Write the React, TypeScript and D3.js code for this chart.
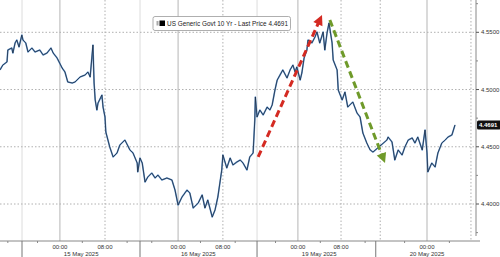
import React from "react";
import * as d3 from "d3";

// Trading-hours axis (hours since chart start, compressed Bloomberg intraday axis)
const hours = [0,0.5,1.25,1.4,2.1,2.3,2.7,3.0,3.4,3.9,4.1,4.6,5.0,5.7,6.25,7.1,7.7,8.4,9.1,9.5,10.2,11.1,11.6,12.1,12.9,13.4,14.3,15.2,15.7,16.1,16.6,16.8,17.0,17.3,17.5,18.2,18.4,18.75,18.9,19.6,20.2,20.9,21.4,22.3,23.2,23.75,24.5,24.6,25.0,25.4,25.9,26.4,27.1,27.7,28.2,28.9,29.8,30.7,31.25,31.8,32.5,33.4,33.9,34.5,35.4,36.1,36.6,37.1,37.9,38.4,38.9,39.6,39.8,40.5,41.1,41.6,42.3,42.9,43.4,44.1,44.6,45.2,45.5,45.6,45.9,46.4,47.0,47.7,48.2,48.6,49.1,49.5,50.0,50.5,51.25,51.8,52.3,52.7,53.0,53.6,53.9,54.3,54.8,55.0,55.7,56.25,56.6,57.1,57.7,58.0,58.4,58.75,59.3,59.5,60.2,60.4,61.1,61.6,62.1,63.0,63.75,64.3,64.8,65.5,66.1,66.6,69.1,69.3,70.0,70.5,71.1,71.8,72.3,72.9,73.6,74.1,74.6,75.4,75.9,76.25,76.4,77.1,77.7,78.2,78.9,79.5,80.0,80.7,81.25];
const yields = [4.5171,4.5214,4.5241,4.5345,4.5363,4.5319,4.5407,4.5433,4.5372,4.5476,4.5433,4.5407,4.5328,4.5363,4.5328,4.5345,4.5302,4.5319,4.5363,4.5319,4.5275,4.5188,4.5153,4.5066,4.5057,4.5066,4.5110,4.5127,4.5153,4.5110,4.5389,4.5057,4.4909,4.4821,4.4882,4.4952,4.4847,4.4760,4.4629,4.4498,4.4411,4.4446,4.4515,4.4559,4.4472,4.4446,4.4358,4.4280,4.4402,4.4358,4.4192,4.4236,4.4271,4.4227,4.4253,4.4210,4.4227,4.4210,4.4122,4.3991,4.4061,4.4122,4.4096,4.3965,4.4009,4.4079,4.3965,4.4035,4.3886,4.3948,4.4061,4.4297,4.4428,4.4315,4.4402,4.4341,4.4367,4.4384,4.4358,4.4297,4.4411,4.4446,4.4734,4.4935,4.4760,4.4821,4.4778,4.4847,4.4821,4.4865,4.4996,4.5083,4.5127,4.5171,4.5101,4.5171,4.5214,4.5153,4.5197,4.5083,4.5144,4.5275,4.5345,4.5433,4.5407,4.5459,4.5503,4.5407,4.5503,4.5345,4.5494,4.5581,4.5407,4.5258,4.5171,4.4996,4.4909,4.4978,4.4847,4.4891,4.4795,4.4760,4.4620,4.4533,4.4472,4.4454,4.4559,4.4585,4.4542,4.4384,4.4472,4.4428,4.4498,4.4559,4.4577,4.4533,4.4585,4.4472,4.4647,4.4446,4.4280,4.4358,4.4323,4.4446,4.4533,4.4559,4.4585,4.4603,4.4691];

const lastPrice = 4.4691;
const yTicks = [4.55, 4.5, 4.45, 4.4];
const yMinorTicks = [4.575, 4.525, 4.475, 4.425, 4.375];
const midnightHours = [10.7, 31.8, 53.2, 76.25];
const eightHours = [18.75, 39.8, 60.9, 84.1];
const extraDottedHours = [67.9];
const daySepHours = [3.93, 25.0, 45.9, 67.1];
const minorTickHours = [1.4, 6.7, 14.7, 22.7, 27.1, 35.8, 42.0, 49.2, 57.2, 65.2, 72.25, 80.25];
const timeLabels = [
  { h: 10.7, t: "00:00" }, { h: 18.75, t: "08:00" },
  { h: 31.8, t: "00:00" }, { h: 39.8, t: "08:00" },
  { h: 53.2, t: "00:00" }, { h: 60.9, t: "08:00" },
  { h: 76.25, t: "00:00" },
];
const dateLabels = [
  { h: 14.5, t: "15 May 2025" },
  { h: 35.4, t: "16 May 2025" },
  { h: 57.0, t: "19 May 2025" },
  { h: 76.25, t: "20 May 2025" },
];
// annotation arrows: [startHour, startYield, endHour, endYield]
const redArrow = [46.1, 4.4411, 57.5, 4.5651];
const greenArrow = [58.9, 4.5607, 68.75, 4.4358];

const W = 500, H = 257;
const axisX = 476, axisY = 241;

function Arrow({ a, color, x, y }: any) {
  const x1 = x(a[0]), y1 = y(a[1]), x2 = x(a[2]), y2 = y(a[3]);
  const dx = x2 - x1, dy = y2 - y1;
  const len = Math.hypot(dx, dy);
  const ux = dx / len, uy = dy / len;
  const hl = 10, hw = 5;
  const bx = x2 - ux * hl, by = y2 - uy * hl;
  const px = -uy, py = ux;
  const pts = `${x2},${y2} ${bx + px * hw},${by + py * hw} ${bx - px * hw},${by - py * hw}`;
  return (
    <g>
      <line x1={x1} y1={y1} x2={bx + ux * 1} y2={by + uy * 1} stroke={color} strokeWidth={3} strokeDasharray="7,4" />
      <polygon points={pts} fill={color} />
    </g>
  );
}

export default function App() {
  const x = d3.scaleLinear().domain([0, 85]).range([0, axisX]);
  const y = d3.scaleLinear().domain([4.4, 4.55]).range([204, 32.3]);
  const data = hours.map((h, i) => [h, yields[i]] as [number, number]);
  const line = d3.line<[number, number]>().x(d => x(d[0])).y(d => y(d[1]));
  const path = line(data) || "";
  const font = "Liberation Sans, Arial, sans-serif";
  return (
    <svg width={W} height={H} style={{ position: "absolute", left: 0, top: 0, background: "#fff" }} fontFamily={font}>
      <rect x={0} y={0} width={W} height={H} fill="#fff" />
      {/* vertical grid */}
      {daySepHours.slice(0, 3).map((h, i) => (
        <line key={"ds" + i} x1={x(h)} x2={x(h)} y1={0} y2={axisY} stroke="#dcdcdc" strokeWidth={1} />
      ))}
      {midnightHours.map((h, i) => (
        <line key={"m" + i} x1={x(h)} x2={x(h)} y1={0} y2={axisY} stroke="#b5b5b5" strokeWidth={1} />
      ))}
      {[...eightHours, ...extraDottedHours].map((h, i) => (
        <line key={"e" + i} x1={x(h)} x2={x(h)} y1={0} y2={axisY} stroke="#b0b0b0" strokeWidth={1} strokeDasharray="1.5,2" />
      ))}
      {/* horizontal grid */}
      {yTicks.map((v, i) => (
        <line key={"hg" + i} x1={0} x2={axisX} y1={y(v)} y2={y(v)} stroke="#b0b0b0" strokeWidth={1} strokeDasharray="1.5,2" />
      ))}
      {/* series */}
      <path d={path} fill="none" stroke="#6a9bd0" strokeWidth={1.6} strokeLinejoin="round" />
      <path d={path} fill="none" stroke="#1b2a40" strokeWidth={0.8} strokeLinejoin="round" />
      {/* arrows */}
      <Arrow a={redArrow} color="#d42a22" x={x} y={y} />
      <Arrow a={greenArrow} color="#6f9a2a" x={x} y={y} />
      {/* right axis */}
      <line x1={axisX} x2={axisX} y1={0} y2={236} stroke="#888" strokeWidth={1} />
      {yTicks.map((v, i) => (
        <g key={"yt" + i}>
          <line x1={axisX} x2={axisX + 3} y1={y(v)} y2={y(v)} stroke="#555" />
          <text x={axisX + 5} y={y(v) + 2} fontSize={6} fill="#333">{v.toFixed(4)}</text>
        </g>
      ))}
      {yMinorTicks.map((v, i) => (
        <line key={"ym" + i} x1={axisX} x2={axisX + 2} y1={y(v)} y2={y(v)} stroke="#888" />
      ))}
      {/* last price box */}
      <rect x={axisX + 1} y={y(lastPrice) - 4.5} width={24} height={9} rx={1.5} fill="#111" />
      <text x={axisX + 3} y={y(lastPrice) + 2.2} fontSize={6} fill="#fff" fontWeight="bold">{lastPrice.toFixed(4)}</text>
      {/* bottom axis */}
      <line x1={0} x2={480} y1={axisY} y2={axisY} stroke="#888" strokeWidth={1} />
      {daySepHours.map((h, i) => (
        <line key={"sep" + i} x1={x(h)} x2={x(h)} y1={axisY} y2={H} stroke="#777" strokeWidth={1} />
      ))}
      {minorTickHours.map((h, i) => (
        <line key={"mt" + i} x1={x(h)} x2={x(h)} y1={axisY} y2={axisY + 2} stroke="#888" />
      ))}
      {timeLabels.map((l, i) => (
        <text key={"tl" + i} x={x(l.h)} y={248.5} fontSize={6} fill="#333" textAnchor="middle">{l.t}</text>
      ))}
      {dateLabels.map((l, i) => (
        <text key={"dl" + i} x={x(l.h)} y={255.5} fontSize={6} fill="#333" textAnchor="middle">{l.t}</text>
      ))}
      {/* legend */}
      <rect x={153} y={16.5} width={137.5} height={14} rx={2} fill="#fff" stroke="#9a9a9a" strokeWidth={0.8} />
      <rect x={156.5} y={21} width={2} height={4.5} fill="#aaa" />
      <rect x={159.5} y={20.5} width={5.5} height={5.5} fill="#000" />
      <text x={167} y={26} fontSize={6.5} fill="#222" textLength={121} lengthAdjust="spacingAndGlyphs">US Generic Govt 10 Yr - Last Price 4.4691</text>
    </svg>
  );
}
